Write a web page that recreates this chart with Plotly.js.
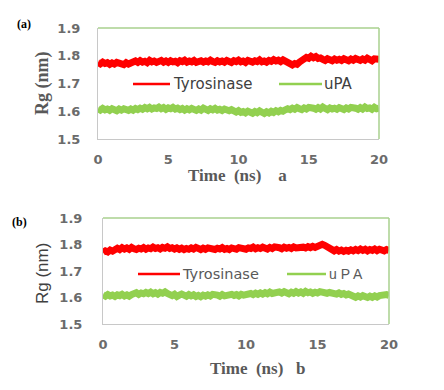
<!DOCTYPE html>
<html>
<head>
<meta charset="utf-8">
<script src="https://cdn.plot.ly/plotly-3.0.1.min.js"></script>
<style>html,body{margin:0;padding:0;background:#fff;}#chart{width:444px;height:390px;}</style>
</head>
<body>
<div id="chart"></div>
<script>
// Radius of gyration (nm), sampled every 1/6 ns over 0-20 ns
const tStart = 0, tEnd = 20;
const seriesNames = ["Tyrosinase", "uPA"];
const yTicks = [1.5, 1.6, 1.7, 1.8, 1.9];
const xTicks = [0, 5, 10, 15, 20];

const aTyrosinase = [
1.776,1.771,1.777,1.772,1.775,1.769,1.774,1.770,1.776,1.771,1.773,1.768,1.775,1.770,1.774,1.777,
1.781,1.776,1.782,1.777,1.780,1.775,1.783,1.778,1.781,1.776,
1.780,1.783,1.777,1.781,1.776,1.782,1.778,1.780,1.775,1.782,
1.779,1.784,1.777,1.781,1.778,1.783,1.776,1.780,1.782,1.777,
1.781,1.778,1.784,1.779,1.776,1.782,1.778,1.781,1.777,1.783,
1.780,1.776,1.782,1.779,1.784,1.778,1.781,1.776,1.783,1.780,
1.777,1.782,1.779,1.785,1.778,1.781,1.777,1.783,1.780,1.786,
1.781,1.784,1.779,1.785,1.782,
1.776,1.771,1.767,1.772,1.769,1.777,1.783,
1.789,1.794,1.791,1.798,1.793,1.797,1.790,1.792,
1.787,1.783,1.789,1.785,1.782,1.788,1.784,1.787,1.783,1.789,
1.785,1.782,1.788,1.784,1.790,1.785,1.783,1.788,1.784,1.791,
1.786,1.782,1.789,1.785,1.787];

const aUPA = [
1.609,1.604,1.610,1.605,1.608,1.603,1.609,1.606,1.602,1.608,1.604,1.609,1.605,1.603,1.608,1.604,1.610,1.606,1.611,
1.607,1.613,1.609,1.614,1.608,1.612,1.610,1.615,1.609,1.613,1.607,1.612,1.609,1.614,1.608,1.611,1.606,1.610,
1.604,1.609,1.605,1.610,1.606,1.603,1.608,1.604,1.611,1.606,1.603,1.609,1.605,1.610,1.604,1.607,1.603,1.608,1.605,1.602,1.606,
1.601,1.597,1.602,1.596,1.599,1.594,1.600,1.596,1.593,1.599,1.595,1.601,1.596,1.592,1.598,1.594,1.600,1.596,1.602,1.598,1.603,1.600,
1.605,1.609,1.606,1.611,1.607,1.613,1.609,1.606,1.612,1.608,
1.614,1.609,1.611,1.607,1.613,1.608,1.615,1.610,1.606,1.612,
1.608,1.611,1.607,1.613,1.609,1.606,1.612,1.608,1.614,1.609,
1.611,1.607,1.613,1.608,1.615,1.610,1.612,1.607,1.614,1.609,1.611];

const bTyrosinase = [
1.770,1.776,1.772,1.779,1.775,1.782,
1.786,1.781,1.788,1.783,1.787,1.782,1.789,1.784,1.781,1.786,
1.783,1.788,1.782,1.787,1.784,1.790,1.785,1.788,1.783,1.789,
1.786,1.791,1.785,1.788,1.783,1.787,1.782,1.786,1.781,1.785,
1.782,1.787,1.783,1.789,1.784,1.781,1.786,1.782,1.787,1.783,
1.785,1.781,1.786,1.783,1.788,1.782,1.785,1.781,1.787,1.784,
1.782,1.788,1.784,1.786,1.782,1.787,1.785,1.790,1.784,1.788,
1.785,1.790,1.786,1.783,1.789,1.785,1.791,1.786,1.788,1.784,
1.790,1.786,1.789,1.785,1.791,1.787,1.789,1.785,1.790,1.787,
1.792,1.788,1.793,1.789,1.792,
1.796,1.801,1.797,1.792,
1.786,1.780,1.776,1.781,1.775,1.779,1.774,1.778,1.775,1.780,1.776,
1.781,1.777,1.783,1.778,1.782,1.776,1.781,1.778,1.783,1.777,1.782,1.779,1.776,1.781,1.778];

const bUPA = [
1.610,1.605,1.611,1.606,1.609,1.604,1.610,1.607,1.612,1.606,1.610,1.605,1.611,
1.613,1.618,1.612,1.617,1.614,1.619,1.615,1.620,1.614,1.618,1.613,1.619,1.616,1.621,1.615,
1.611,1.607,1.612,1.604,1.609,1.613,
1.609,1.605,1.611,1.606,1.610,1.604,1.608,1.603,1.609,1.605,
1.610,1.606,1.612,1.607,1.609,1.605,1.611,1.606,1.610,1.607,
1.612,1.608,1.611,1.606,1.612,1.609,1.613,
1.610,1.615,1.611,1.616,1.612,1.617,1.613,1.618,1.614,1.620,1.615,1.619,
1.616,1.621,1.617,1.622,1.618,1.614,1.620,1.616,1.622,1.617,
1.621,1.616,1.623,1.618,1.621,1.616,1.620,1.617,1.622,1.618,
1.621,1.616,1.619,1.615,
1.618,1.613,1.617,1.612,1.615,1.610,1.613,1.608,
1.605,1.601,1.606,1.602,1.607,1.603,1.600,1.605,1.601,1.606,1.602,1.607,
1.609,1.605,1.611,1.608];

function times(arr){ return arr.map((_, i) => tStart + i * (tEnd - tStart) / (arr.length - 1)); }

const RED = "#ff0000", GREEN = "#92d050";
const W = 444, H = 390;
const px = v => v / W, py = v => 1 - v / H;
const LW = 7;

const traces = [
  {x: times(aTyrosinase), y: aTyrosinase, name: seriesNames[0], xaxis: "x", yaxis: "y", mode: "lines", line: {color: RED, width: LW}},
  {x: times(aUPA), y: aUPA, name: seriesNames[1], xaxis: "x", yaxis: "y", mode: "lines", line: {color: GREEN, width: LW}},
  {x: times(bTyrosinase), y: bTyrosinase, name: seriesNames[0], xaxis: "x2", yaxis: "y2", mode: "lines", line: {color: RED, width: LW}},
  {x: times(bUPA), y: bUPA, name: seriesNames[1], xaxis: "x2", yaxis: "y2", mode: "lines", line: {color: GREEN, width: LW}}
];

const tickFont = {family: "DejaVu Sans", size: 13, color: "#6b6b6b", weight: "bold"};
function xa(dom, anchor){ return {domain: dom, anchor: anchor, range: [0, 20], tickvals: xTicks, ticktext: xTicks.map(String), showgrid: false, zeroline: false, showline: true, linecolor: "#c8c8c8", linewidth: 1, ticks: "", ticklabelstandoff: 8, tickfont: tickFont, fixedrange: true}; }
function ya(dom, anchor, stand){ return {domain: dom, anchor: anchor, range: [1.5, 1.9], tickvals: yTicks, ticktext: yTicks.map(v => v.toFixed(1)), showgrid: false, zeroline: false, showline: true, linecolor: "#c8c8c8", linewidth: 1, ticks: "", ticklabelstandoff: stand, tickfont: tickFont, fixedrange: true}; }

const A = {l: 98, r: 379, t: 28, b: 139};
const B = {l: 103, r: 389, t: 218, b: 324};

const shapes = [];
[A, B].forEach(p => {
  shapes.push({type: "line", xref: "paper", yref: "paper", x0: px(p.l), x1: px(p.r), y0: py(p.t), y1: py(p.t), line: {color: "#a9d18e", width: 1.5}});
  shapes.push({type: "line", xref: "paper", yref: "paper", x0: px(p.r), x1: px(p.r), y0: py(p.t), y1: py(p.b), line: {color: "#a9d18e", width: 1.5}});
});
// legend keys
shapes.push({type: "line", xref: "paper", yref: "paper", x0: px(133), x1: px(170), y0: py(84), y1: py(84), line: {color: RED, width: 2.5}});
shapes.push({type: "line", xref: "paper", yref: "paper", x0: px(279), x1: px(322), y0: py(84), y1: py(84), line: {color: GREEN, width: 2.5}});
shapes.push({type: "line", xref: "paper", yref: "paper", x0: px(138), x1: px(180), y0: py(274), y1: py(274), line: {color: RED, width: 2.5}});
shapes.push({type: "line", xref: "paper", yref: "paper", x0: px(287), x1: px(326), y0: py(274), y1: py(274), line: {color: GREEN, width: 2.5}});

const legFont = {family: "DejaVu Sans", size: 15, color: "#404040"};
const legFontB = {family: "DejaVu Sans", size: 14.5, color: "#595959"};
const annotations = [
  {text: seriesNames[0], x: px(171), y: py(84), xanchor: "left", yanchor: "middle", font: legFont},
  {text: seriesNames[1], x: px(322), y: py(84), xanchor: "left", yanchor: "middle", font: legFont},
  {text: seriesNames[0], x: px(180), y: py(274), xanchor: "left", yanchor: "middle", font: legFontB},
  {text: "u P A", x: px(327), y: py(274), xanchor: "left", yanchor: "middle", font: {family: "Liberation Sans", size: 14, color: "#595959"}},
  {text: "Time  (ns)    a", x: px(238), y: py(176), xanchor: "center", yanchor: "middle", font: {family: "Liberation Serif", size: 17, color: "#595959", weight: "bold"}},
  {text: "Time  (ns)   b", x: px(258), y: py(368), xanchor: "center", yanchor: "middle", font: {family: "Liberation Serif", size: 17, color: "#595959", weight: "bold"}},
  {text: "Rg (nm)", x: px(42), y: py(83), xanchor: "center", yanchor: "middle", textangle: -90, font: {family: "Liberation Serif", size: 18, color: "#595959", weight: "bold"}},
  {text: "Rg (nm)", x: px(42), y: py(274), xanchor: "center", yanchor: "middle", textangle: -90, font: {family: "Liberation Sans", size: 17, color: "#404040"}},
  {text: "(a)", x: px(24), y: py(24), xanchor: "center", yanchor: "middle", font: {family: "Liberation Serif", size: 12, color: "#000", weight: "bold"}},
  {text: "(b)", x: px(19), y: py(222), xanchor: "center", yanchor: "middle", font: {family: "Liberation Serif", size: 12, color: "#000", weight: "bold"}}
].map(a => Object.assign({xref: "paper", yref: "paper", showarrow: false}, a));

const layout = {
  width: W, height: H,
  margin: {l: 0, r: 0, t: 0, b: 0},
  paper_bgcolor: "#fff", plot_bgcolor: "#fff",
  showlegend: false,
  xaxis: xa([px(A.l), px(A.r)], "y"),
  yaxis: ya([py(A.b), py(A.t)], "x", 14),
  xaxis2: xa([px(B.l), px(B.r)], "y2"),
  yaxis2: ya([py(B.b), py(B.t)], "x2", 17),
  shapes: shapes,
  annotations: annotations
};

Plotly.newPlot("chart", traces, layout, {displayModeBar: false, staticPlot: true});
</script>
</body>
</html>
